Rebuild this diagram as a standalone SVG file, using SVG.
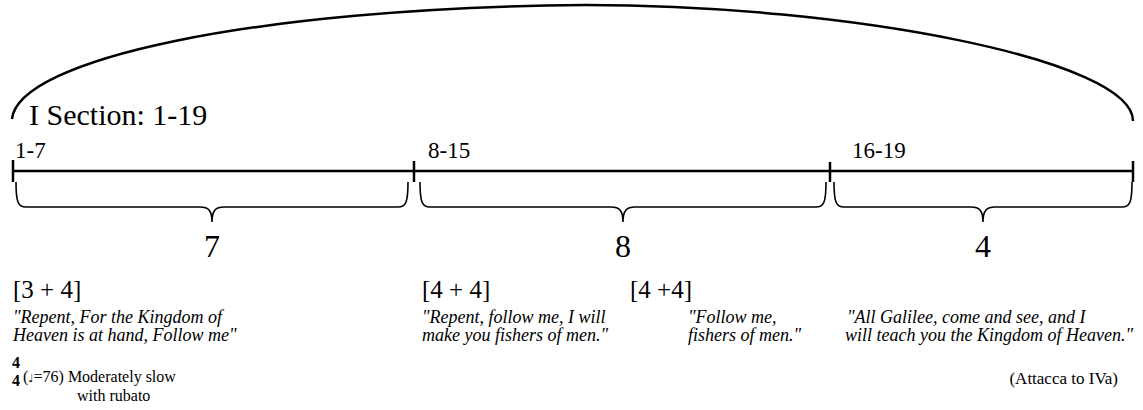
<svg xmlns="http://www.w3.org/2000/svg" width="1143" height="410" viewBox="0 0 1143 410">
<style>
.t{font-family:"Liberation Serif","Times New Roman",serif;fill:#000}
.i{font-family:"Liberation Serif","Times New Roman",serif;font-style:italic;fill:#000;font-size:18px}
.lab{font-size:23px}
.num{font-size:32px}
.grp{font-size:25px}
.sm{font-size:16px}
.ts{font-size:16px;font-weight:bold}
.ln{stroke:#000;fill:none}
.br{stroke:#000;fill:none;stroke-width:1.6}
</style>
<rect width="1143" height="410" fill="#fff"/>
<g id="arc">
<path class="ln" stroke-width="2.5" d="M12,119 C18,60 250,8 585,5 C850,5 1133,60 1133,121"/>
</g>
<g id="section-title"><text class="t" x="29" y="125" font-size="30">I Section: 1-19</text></g>
<g id="connectors">
<line class="ln" stroke-width="2.5" x1="13" y1="171" x2="1133" y2="171"/>
<line class="ln" stroke-width="2.5" x1="13" y1="160" x2="13" y2="182"/>
<line class="ln" stroke-width="2.5" x1="414" y1="161" x2="414" y2="182"/>
<line class="ln" stroke-width="2.5" x1="830" y1="162" x2="830" y2="182"/>
<line class="ln" stroke-width="2.5" x1="1133" y1="161" x2="1133" y2="182"/>
<path class="br" d="M16,182 C16,202 18,207 26,207 L200,207 C208,207 212,210 212,222 C212,210 216,207 224,207 L398,207 C406,207 408,202 408,182"/>
<path class="br" d="M420,182 C420,202 422,207 430,207 L611,207 C619,207 623,210 623,222 C623,210 627,207 635,207 L816,207 C824,207 826,202 826,182"/>
<path class="br" d="M834,182 C834,202 836,207 844,207 L971,207 C979,207 983,210 983,222 C983,210 987,207 995,207 L1122,207 C1130,207 1132,202 1132,182"/>
</g>
<g id="seg1">
<text class="t lab" x="15" y="158">1-7</text>
<text class="t num" x="212" y="257" text-anchor="middle">7</text>
<text class="t grp" x="13" y="298">[3 + 4]</text>
<text class="i" x="13" y="323">"Repent, For the Kingdom of</text>
<text class="i" x="13" y="341">Heaven is at hand, Follow me"</text>
</g>
<g id="seg2">
<text class="t lab" x="428" y="158">8-15</text>
<text class="t num" x="623" y="257" text-anchor="middle">8</text>
<text class="t grp" x="422" y="298">[4 + 4]</text>
<text class="t grp" x="630" y="298">[4 +4]</text>
<text class="i" x="422" y="323">"Repent, follow me, I will</text>
<text class="i" x="422" y="341">make you fishers of men."</text>
<text class="i" x="688" y="323">"Follow me,</text>
<text class="i" x="688" y="341">fishers of men."</text>
</g>
<g id="seg3">
<text class="t lab" x="852" y="158">16-19</text>
<text class="t num" x="983" y="257" text-anchor="middle">4</text>
<text class="i" x="847" y="323">"All Galilee, come and see, and I</text>
<text class="i" x="845" y="341">will teach you the Kingdom of Heaven."</text>
</g>
<g id="tempo">
<text class="t ts" x="12" y="368">4</text>
<text class="t ts" x="12" y="386">4</text>
<text class="t sm" x="23" y="382">(<tspan font-family="DejaVu Sans" font-size="11">♩</tspan>=76) Moderately slow</text>
<text class="t sm" x="77" y="401">with rubato</text>
<text class="t" x="1118" y="384" font-size="17" text-anchor="end">(Attacca to IVa)</text>
</g>
</svg>
